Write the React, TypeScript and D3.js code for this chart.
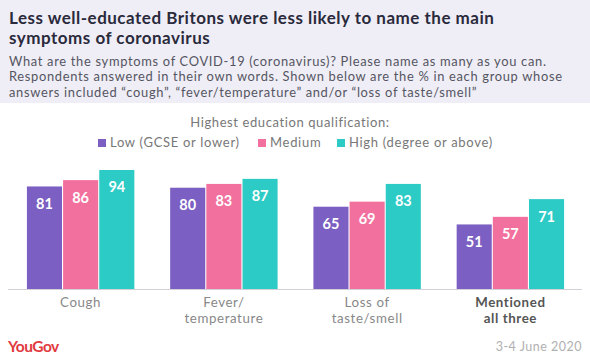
import React from "react";
import * as d3 from "d3";

const categories = [["Cough"], ["Fever/", "temperature"], ["Loss of", "taste/smell"], ["Mentioned", "all three"]];
const boldCategory = [false, false, false, true];
const seriesNames = ["Low (GCSE or lower)", "Medium", "High (degree or above)"];
const lowValues = [81, 80, 65, 51];
const mediumValues = [86, 83, 69, 57];
const highValues = [94, 87, 83, 71];
const colors = ["#7b5fc2", "#f2709d", "#2ccbc6"];

const titleLines = ["Less well-educated Britons were less likely to name the main", "symptoms of coronavirus"];
const subtitleLines = [
  "What are the symptoms of COVID-19 (coronavirus)? Please name as many as you can.",
  "Respondents answered in their own words. Shown below are the % in each group whose",
  "answers included \u201ccough\u201d, \u201cfever/temperature\u201d and/or \u201closs of taste/smell\u201d",
];

const W = 590;
const H = 359;
const FONT = "Lato, sans-serif";

export default function App() {
  const series = [lowValues, mediumValues, highValues];
  const x0 = d3.scaleBand<number>().domain(d3.range(categories.length)).range([9, 582]).paddingInner(0.25).paddingOuter(0.125);
  const x1 = d3.scaleBand<number>().domain(d3.range(series.length)).range([0, x0.bandwidth()]).paddingInner(0.03);
  const y = d3.scaleLinear().domain([0, 100]).range([289, 162.4]);

  const legendX = [98, 258, 337];

  return (
    <svg width={W} height={H} style={{ position: "absolute", left: 0, top: 0, fontFamily: FONT }}>
      <rect x={0} y={0} width={W} height={H} fill="#ffffff" />
      <rect x={0} y={0} width={W} height={103} fill="#efeef6" />
      {titleLines.map((t, i) => (
        <text key={i} x={9} y={23.5 + i * 20.5} fontSize={17} fontWeight={700} letterSpacing={0.5} fill="#2a2a3c">{t}</text>
      ))}
      {subtitleLines.map((t, i) => (
        <text key={i} x={9} y={65.5 + i * 15.7} fontSize={12.9} letterSpacing={0.68} fill="#555562">{t}</text>
      ))}
      <text x={290} y={127} textAnchor="middle" fontSize={13} letterSpacing={0.6} fill="#777">Highest education qualification:</text>
      {seriesNames.map((s, i) => (
        <g key={s}>
          <rect x={legendX[i]} y={139} width={8} height={8} fill={colors[i]} />
          <text x={legendX[i] + 12} y={147} fontSize={13} letterSpacing={0.7} fill="#777">{s}</text>
        </g>
      ))}
      {categories.map((c, ci) => (
        <g key={ci} transform={`translate(${x0(ci)},0)`}>
          {series.map((vals, si) => (
            <g key={si}>
              <rect x={x1(si)} y={y(vals[ci])} width={x1.bandwidth()} height={y(0) - y(vals[ci])} fill={colors[si]} />
              <text x={(x1(si) as number) + x1.bandwidth() / 2} y={y(vals[ci]) + 22.5} textAnchor="middle" fontSize={14.5} fontWeight={700} fill="#ffffff">{vals[ci]}</text>
            </g>
          ))}
          {c.map((line, li) => (
            <text key={li} x={x0.bandwidth() / 2} y={307 + li * 16} textAnchor="middle" fontSize={13.3} letterSpacing={0.6} fontWeight={boldCategory[ci] ? 700 : 400} fill={boldCategory[ci] ? "#555" : "#888"}>{line}</text>
          ))}
        </g>
      ))}
      <line x1={8} x2={582} y1={289.5} y2={289.5} stroke="#d0d0d6" strokeWidth={1} />
      <text x={8} y={352} fontSize={15.5} fontWeight={700} fill="#e1393e" letterSpacing={-0.5}>YouGov</text>
      <text x={582} y={351} textAnchor="end" fontSize={12.5} letterSpacing={0.5} fill="#b0b0b0">3-4 June 2020</text>
    </svg>
  );
}
